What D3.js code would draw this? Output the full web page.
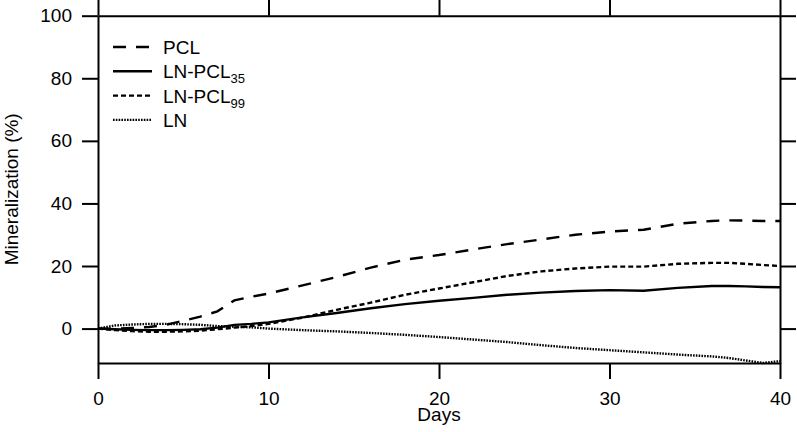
<!DOCTYPE html>
<html>
<head>
<meta charset="utf-8">
<script src="https://cdn.jsdelivr.net/npm/d3@7"></script>
<style>
  body { margin: 0; background: #fff; }
  text { font-family: "Liberation Sans", Arial, sans-serif; fill: #000; }
</style>
</head>
<body>
<svg id="chart" width="797" height="432"></svg>
<script>
// data
const days = [0, 1, 2, 3, 4, 5, 6, 7, 8, 9, 10, 12, 14, 16, 18, 20, 22, 24, 26, 28, 30, 32, 34, 36, 37, 38, 39, 40];
const pcl = [0, 0, 0.2, 0.5, 1.2, 2.5, 3.8, 5.5, 9, 10.2, 11.2, 13.8, 16.5, 19.5, 22, 23.5, 25.3, 27, 28.5, 30, 31, 31.6, 33.5, 34.4, 34.6, 34.5, 34.4, 34.4];
const lnPcl35 = [0, -0.2, -0.4, -0.5, -0.5, -0.4, -0.2, 0.3, 1.2, 1.5, 2, 3.6, 5, 6.5, 7.8, 8.9, 9.8, 10.8, 11.5, 12, 12.3, 12.1, 13, 13.6, 13.6, 13.5, 13.3, 13.2];
const lnPcl99 = [0, -0.5, -0.8, -1, -1, -0.9, -0.7, -0.2, 0.3, 0.8, 1.5, 3.5, 6, 8.3, 10.8, 12.8, 14.8, 16.8, 18.3, 19.2, 19.8, 19.8, 20.7, 21, 21, 20.7, 20.3, 20];
const ln = [0, 1, 1.3, 1.5, 1.5, 1.4, 1.2, 0.8, 0.6, 0.4, 0, -0.5, -0.9, -1.4, -2, -2.7, -3.5, -4.3, -5.3, -6.2, -6.9, -7.6, -8.3, -8.9, -9.4, -10.2, -11, -10.4];
const xTicks = [0, 10, 20, 30, 40];
const yTicks = [0, 20, 40, 60, 80, 100];

const series = [
    {name: "PCL", sub: "", values: pcl, dash: "13,10"},
    {name: "LN-PCL", sub: "35", values: lnPcl35, dash: null},
    {name: "LN-PCL", sub: "99", values: lnPcl99, dash: "5,3"},
    {name: "LN", sub: "", values: ln, dash: "1.6,1.2"}
];

const margin = {top: 15.7, right: 17, bottom: 69, left: 98},
    width = 797 - margin.left - margin.right,
    height = 432 - margin.top - margin.bottom;

const svg = d3.select("#chart");
const g = svg.append("g").attr("transform", `translate(${margin.left},${margin.top})`);

const x = d3.scaleLinear().domain([0, 40]).range([0, width]);
const y = d3.scaleLinear().domain([-11, 100]).range([height, 0]);

// 四条坐标轴组成边框
function styleAxis(sel) {
    sel.selectAll("path, line").attr("stroke", "#000").attr("stroke-width", 2);
    sel.selectAll("text").style("font-size", "19px").attr("fill", "#000");
}

g.append("g")
    .attr("transform", `translate(0,${height})`)
    .call(d3.axisBottom(x).tickValues(xTicks).tickSize(16).tickSizeOuter(0).tickPadding(13))
    .call(styleAxis);

g.append("g")
    .call(d3.axisTop(x).tickValues(xTicks).tickSize(16).tickSizeOuter(0).tickFormat(""))
    .call(styleAxis);

g.append("g")
    .call(d3.axisLeft(y).tickValues(yTicks).tickSize(16).tickSizeOuter(0).tickPadding(10))
    .call(styleAxis);

g.append("g")
    .attr("transform", `translate(${width},0)`)
    .call(d3.axisRight(y).tickValues(yTicks).tickSize(16).tickSizeOuter(0).tickFormat(""))
    .call(styleAxis);

// 曲线
const line = d3.line()
    .x((d, i) => x(days[i]))
    .y(d => y(d));

g.selectAll(".curve")
    .data(series)
    .enter().append("path")
    .attr("class", "curve")
    .attr("d", d => line(d.values))
    .attr("fill", "none")
    .attr("stroke", "#000")
    .attr("stroke-width", 2.4)
    .attr("stroke-dasharray", d => d.dash);

// 轴标题
svg.append("text")
    .attr("x", margin.left + width / 2)
    .attr("y", 421)
    .attr("text-anchor", "middle")
    .style("font-size", "19px")
    .text("Days");

svg.append("text")
    .attr("transform", `translate(18,${margin.top + height / 2}) rotate(-90)`)
    .attr("text-anchor", "middle")
    .style("font-size", "19px")
    .text("Mineralization (%)");

// 图例
const legend = svg.append("g").attr("class", "legend");
const rows = legend.selectAll(".row")
    .data(series)
    .enter().append("g")
    .attr("class", "row")
    .attr("transform", (d, i) => `translate(113,${47 + i * 24.3})`);

rows.append("line")
    .attr("x1", 0).attr("x2", 39)
    .attr("y1", 0).attr("y2", 0)
    .attr("stroke", "#000")
    .attr("stroke-width", 2.4)
    .attr("stroke-dasharray", d => d.dash);

const labels = rows.append("text")
    .attr("x", 50)
    .attr("y", 7)
    .style("font-size", "19px");

labels.append("tspan").text(d => d.name);
labels.append("tspan")
    .attr("dy", 5)
    .style("font-size", "13px")
    .text(d => d.sub);
</script>
</body>
</html>
